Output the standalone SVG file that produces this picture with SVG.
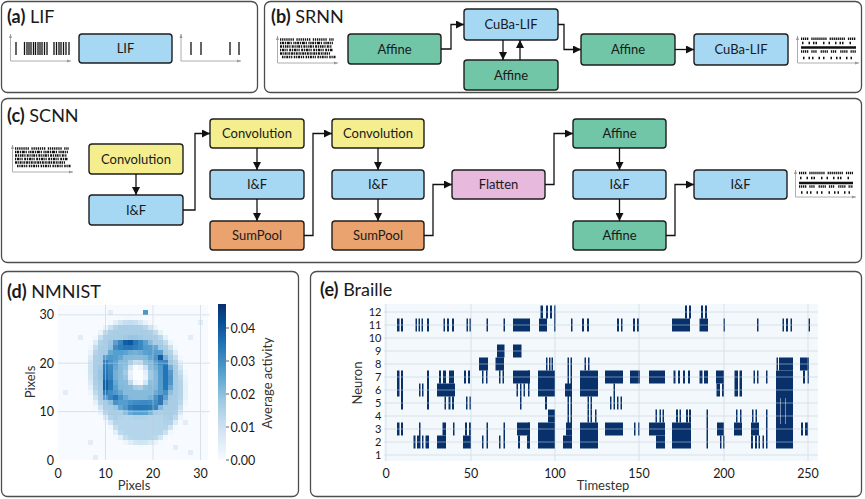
<svg xmlns="http://www.w3.org/2000/svg" width="865" height="499" viewBox="0 0 865 499">
<defs>
<style>
text { font-family: Lato, "Open Sans", "Liberation Sans", sans-serif; fill:#1a1a1a; }
.panel { fill:#fff; stroke:#4d4d4d; stroke-width:1.3; }
.title { font-size:18px; }
.b { font-weight:700; }
.node rect { stroke:#1e1e1e; stroke-width:1.4; }
.node text { font-size:13px; text-anchor:middle; }
.blue { fill:#a6d7f3; } .green { fill:#70c6a7; } .yellow { fill:#f5ee8f; } .orange { fill:#eaa36e; } .pink { fill:#e7b9dc; }
.conn path { fill:none; stroke:#111; stroke-width:1.3; marker-end:url(#arr); }
.ax { stroke:#9a9a9a; stroke-width:0.8; fill:none; marker-end:url(#axarr); }
.spk { stroke:#111; stroke-width:1.3; }
.dots line { stroke:#111; stroke-width:2.6; }
.tick { font-size:12.5px; fill:#333; }
.lab { font-size:13px; fill:#333; }
.grid { stroke:#c3ccd6; stroke-width:1; opacity:0.55; }
</style>
<marker id="arr" viewBox="0 0 10 10" refX="10" refY="5" markerWidth="8" markerHeight="8" markerUnits="userSpaceOnUse" orient="auto"><path d="M0,0 L10,5 L0,10 z" fill="#111"/></marker>
<marker id="axarr" viewBox="0 0 10 10" refX="10" refY="5" markerWidth="4" markerHeight="4" markerUnits="userSpaceOnUse" orient="auto"><path d="M0,1 L10,5 L0,9 z" fill="#9a9a9a"/></marker>
<linearGradient id="blues" x1="0" y1="1" x2="0" y2="0">
<stop offset="0" stop-color="#f7fbff"/><stop offset="0.125" stop-color="#deebf7"/><stop offset="0.25" stop-color="#c6dbef"/><stop offset="0.375" stop-color="#9ecae1"/><stop offset="0.5" stop-color="#6baed6"/><stop offset="0.625" stop-color="#4292c6"/><stop offset="0.75" stop-color="#2171b5"/><stop offset="0.875" stop-color="#08519c"/><stop offset="1" stop-color="#08306b"/>
</linearGradient>
<clipPath id="hmclip"><rect x="58" y="305" width="152" height="155"/></clipPath>
<filter id="bl2" x="-30%" y="-30%" width="160%" height="160%"><feGaussianBlur stdDeviation="2.5"/></filter>
<filter id="bl1" x="-30%" y="-30%" width="160%" height="160%"><feGaussianBlur stdDeviation="1.5"/></filter>
<filter id="pix" filterUnits="userSpaceOnUse" primitiveUnits="userSpaceOnUse" x="58" y="305" width="152" height="155">
<feFlood x="60" y="307" width="1" height="1" flood-color="#000" result="f"/>
<feComposite in="f" in2="f" operator="over" x="58" y="305" width="5" height="5" result="t"/>
<feTile in="t" result="a"/>
<feComposite in="SourceGraphic" in2="a" operator="in"/>
<feMorphology operator="dilate" radius="2"/>
</filter>
</defs>

<!-- panels -->
<rect class="panel" x="1.5" y="1.5" width="256" height="91" rx="6"/>
<rect class="panel" x="264.5" y="1.5" width="597" height="91" rx="6"/>
<rect class="panel" x="1.5" y="98.5" width="860" height="164" rx="6"/>
<rect class="panel" x="1.5" y="271.5" width="297" height="225" rx="6"/>
<rect class="panel" x="310.5" y="271.5" width="551" height="225" rx="6"/>

<text class="title" x="7" y="23"><tspan class="b">(a)</tspan> LIF</text>
<text class="title" x="271" y="23"><tspan class="b">(b)</tspan> SRNN</text>
<text class="title" x="7" y="122"><tspan class="b">(c)</tspan> SCNN</text>
<text class="title" x="7" y="298"><tspan class="b">(d)</tspan> NMNIST</text>
<text class="title" x="320" y="296"><tspan class="b">(e)</tspan> Braille</text>

<!-- (a) spike trains -->
<g id="a-input">
<path class="ax" d="M10.5,61 V34"/><path class="ax" d="M10.5,61 H71"/>
<g class="spk">
<line x1="16" y1="42" x2="16" y2="55"/>
<line x1="24.5" y1="42" x2="24.5" y2="55"/><line x1="27" y1="42" x2="27" y2="55"/><line x1="29" y1="42" x2="29" y2="55"/><line x1="31" y1="42" x2="31" y2="55"/><line x1="33.5" y1="42" x2="33.5" y2="55"/><line x1="35.5" y1="42" x2="35.5" y2="55"/><line x1="38" y1="42" x2="38" y2="55"/><line x1="40" y1="42" x2="40" y2="55"/><line x1="42" y1="42" x2="42" y2="55"/><line x1="44.5" y1="42" x2="44.5" y2="55"/><line x1="47" y1="42" x2="47" y2="55"/>
<line x1="54" y1="42" x2="54" y2="55"/><line x1="56.5" y1="42" x2="56.5" y2="55"/><line x1="59" y1="42" x2="59" y2="55"/><line x1="61" y1="42" x2="61" y2="55"/><line x1="63.5" y1="42" x2="63.5" y2="55"/><line x1="66" y1="42" x2="66" y2="55"/><line x1="69" y1="42" x2="69" y2="55"/>
</g>
</g>
<g id="a-output">
<path class="ax" d="M181,61 V34"/><path class="ax" d="M181,61 H241"/>
<g class="spk">
<line x1="191" y1="42" x2="191" y2="55"/><line x1="201" y1="42" x2="201" y2="55"/><line x1="230" y1="42" x2="230" y2="55"/><line x1="239" y1="42" x2="239" y2="55"/>
</g>
</g>
<g id="a-lif" class="node"><rect class="blue" x="79" y="34" width="93" height="29" rx="3"/><text x="125.5" y="53">LIF</text></g>

<!-- (b) rasters -->
<g id="b-input">
<path class="ax" d="M277.5,63 V36"/><path class="ax" d="M277.5,63 H338"/>
<g class="dots">
<line x1="280" y1="39.5" x2="334" y2="39.5" stroke-dasharray="1.3 0.8 1.3 0.8 1.3 0.8 1.3 0.8 1.3 0.8 1.3 0.8 1.3 2.5"/>
<line x1="280" y1="43" x2="333" y2="43" stroke-dasharray="1.4 0.6 2 0.8 1.2 0.8 3 0.8 1.2 1.5 1.2 0.6"/>
<line x1="280" y1="46.5" x2="332" y2="46.5" stroke-dasharray="2 0.8 1.2 0.8 1.2 0.5 2 0.8 1.2 1.2"/>
<line x1="280" y1="50" x2="333" y2="50" stroke-dasharray="1.2 0.8 2 0.5 1.2 0.8 1.2 1.5 2 0.8"/>
<line x1="280" y1="53.5" x2="330" y2="53.5" stroke-dasharray="2 0.6 1.2 0.8 2 0.8 1.2 0.5 1.2 0.8"/>
<line x1="282" y1="57" x2="336" y2="57" stroke-dasharray="1.5 0.8 1.2 0.8 2 0.8 1.2 0.8 1.2 1.5"/>
</g>
</g>
<g id="b-output">
<path class="ax" d="M797.5,63 V36"/><path class="ax" d="M797.5,63 H859"/>
<g class="dots">
<line x1="801" y1="38.8" x2="856" y2="38.8" stroke-dasharray="1.3 0.7 1.3 0.7 1.3 0.7 1.3 3 1.3 0.7 1.3 0.7 1.3 0.7 1.3 0.7"/>
<line x1="802" y1="43" x2="855" y2="43" stroke-dasharray="1.5 5 1.5 3 1.5 1 1.5 6 1.5 4"/>
<line x1="801" y1="47.5" x2="856" y2="47.5" stroke-width="2.6"/>
<line x1="801" y1="51.5" x2="856" y2="51.5" stroke-dasharray="1.3 0.7 1.3 0.7 1.3 0.7 1.3 3 1.3 0.7 1.3 0.7 1.3 4"/>
<line x1="803" y1="58" x2="855" y2="58" stroke-dasharray="1.5 4 1.5 2 1.5 5 1.5 3 1.5 6"/>
</g>
</g>

<!-- (b) nodes -->
<g id="b-affine1" class="node"><rect class="green" x="348" y="34" width="93" height="30" rx="3"/><text x="394.5" y="53.5">Affine</text></g>
<g id="b-cuba1" class="node"><rect class="blue" x="464" y="9" width="94" height="31" rx="3"/><text x="511" y="29">CuBa-LIF</text></g>
<g id="b-affine-rec" class="node"><rect class="green" x="464" y="60" width="94" height="30" rx="3"/><text x="511" y="79.5">Affine</text></g>
<g id="b-affine2" class="node"><rect class="green" x="581" y="34" width="94" height="31" rx="3"/><text x="628" y="54">Affine</text></g>
<g id="b-cuba2" class="node"><rect class="blue" x="694" y="34" width="94" height="31" rx="3"/><text x="741" y="54">CuBa-LIF</text></g>

<!-- (c) rasters -->
<g id="c-input">
<path class="ax" d="M12.5,172 V145"/><path class="ax" d="M12.5,172 H73"/>
<g class="dots">
<line x1="15" y1="148.5" x2="69" y2="148.5" stroke-dasharray="1.3 0.8 1.3 0.8 1.3 0.8 1.3 0.8 1.3 0.8 1.3 0.8 1.3 2.5"/>
<line x1="15" y1="152" x2="68" y2="152" stroke-dasharray="1.4 0.6 2 0.8 1.2 0.8 3 0.8 1.2 1.5 1.2 0.6"/>
<line x1="15" y1="155.5" x2="67" y2="155.5" stroke-dasharray="2 0.8 1.2 0.8 1.2 0.5 2 0.8 1.2 1.2"/>
<line x1="15" y1="159" x2="68" y2="159" stroke-dasharray="1.2 0.8 2 0.5 1.2 0.8 1.2 1.5 2 0.8"/>
<line x1="15" y1="162.5" x2="65" y2="162.5" stroke-dasharray="2 0.6 1.2 0.8 2 0.8 1.2 0.5 1.2 0.8"/>
<line x1="17" y1="166" x2="71" y2="166" stroke-dasharray="1.5 0.8 1.2 0.8 2 0.8 1.2 0.8 1.2 1.5"/>
</g>
</g>
<g id="c-output">
<path class="ax" d="M795.5,197 V170"/><path class="ax" d="M795.5,197 H856"/>
<g class="dots">
<line x1="799" y1="173" x2="853" y2="173" stroke-dasharray="1.3 0.7 1.3 0.7 1.3 0.7 1.3 3 1.3 0.7 1.3 0.7 1.3 0.7 1.3 0.7"/>
<line x1="800" y1="178" x2="852" y2="178" stroke-dasharray="1.5 5 1.5 3 1.5 1 1.5 6 1.5 4"/>
<line x1="799" y1="183" x2="853" y2="183" stroke-width="2.6"/>
<line x1="799" y1="186.5" x2="853" y2="186.5" stroke-dasharray="1.3 0.7 1.3 0.7 1.3 0.7 1.3 3 1.3 0.7 1.3 0.7 1.3 4"/>
<line x1="801" y1="192.5" x2="852" y2="192.5" stroke-dasharray="1.5 4 1.5 2 1.5 5 1.5 3 1.5 6"/>
</g>
</g>

<!-- (c) nodes -->
<g id="c-conv1" class="node"><rect class="yellow" x="89" y="144" width="94" height="30" rx="3"/><text x="136" y="163.5">Convolution</text></g>
<g id="c-if1" class="node"><rect class="blue" x="89" y="195" width="94" height="30" rx="3"/><text x="136" y="214.5">I&amp;F</text></g>
<g id="c-conv2" class="node"><rect class="yellow" x="210" y="119" width="94" height="29" rx="3"/><text x="257" y="138">Convolution</text></g>
<g id="c-if2" class="node"><rect class="blue" x="210" y="170" width="94" height="29" rx="3"/><text x="257" y="189">I&amp;F</text></g>
<g id="c-pool1" class="node"><rect class="orange" x="210" y="221" width="94" height="29" rx="3"/><text x="257" y="240">SumPool</text></g>
<g id="c-conv3" class="node"><rect class="yellow" x="332" y="119" width="92" height="29" rx="3"/><text x="378" y="138">Convolution</text></g>
<g id="c-if3" class="node"><rect class="blue" x="332" y="170" width="92" height="29" rx="3"/><text x="378" y="189">I&amp;F</text></g>
<g id="c-pool2" class="node"><rect class="orange" x="332" y="221" width="92" height="29" rx="3"/><text x="378" y="240">SumPool</text></g>
<g id="c-flatten" class="node"><rect class="pink" x="452" y="170" width="93" height="29" rx="3"/><text x="498.5" y="189">Flatten</text></g>
<g id="c-affine1" class="node"><rect class="green" x="573" y="119" width="93" height="29" rx="3"/><text x="619.5" y="138">Affine</text></g>
<g id="c-if4" class="node"><rect class="blue" x="573" y="170" width="93" height="29" rx="3"/><text x="619.5" y="189">I&amp;F</text></g>
<g id="c-affine2" class="node"><rect class="green" x="573" y="221" width="93" height="29" rx="3"/><text x="619.5" y="240">Affine</text></g>
<g id="c-if5" class="node"><rect class="blue" x="694" y="170" width="93" height="29" rx="3"/><text x="740.5" y="189">I&amp;F</text></g>

<!-- connectors -->
<g id="connectors" class="conn">
<path d="M441,49 H451 V24.5 H464"/>
<path d="M503,40 V60"/>
<path d="M520,60 V40"/>
<path d="M558,24.5 H564 V49.5 H581"/>
<path d="M675,49.5 H694"/>
<path d="M136,174 V195"/>
<path d="M183,210 H195 V133.5 H210"/>
<path d="M257,148 V170"/>
<path d="M257,199 V221"/>
<path d="M304,235.5 H313 V133.5 H332"/>
<path d="M378,148 V170"/>
<path d="M378,199 V221"/>
<path d="M424,235.5 H433 V184.5 H452"/>
<path d="M545,184.5 H554 V133.5 H573"/>
<path d="M619.5,148 V170"/>
<path d="M619.5,199 V221"/>
<path d="M666,235.5 H675 V184.5 H694"/>
</g>

<!-- (d) heatmap -->
<g id="d-heatmap">
<g clip-path="url(#hmclip)">
<g filter="url(#pix)">
<rect x="58" y="305" width="152" height="155" fill="#f7fbff"/>
<g fill="#e2edf8">
<rect x="77" y="333" width="5" height="5"/><rect x="86" y="441" width="5" height="5"/><rect x="172" y="445" width="5" height="5"/><rect x="181" y="421" width="5" height="5"/><rect x="190" y="450" width="5" height="5"/><rect x="110" y="309" width="5" height="5"/><rect x="196" y="318" width="5" height="5"/><rect x="63" y="391" width="5" height="5"/><rect x="186" y="335" width="5" height="5"/><rect x="95" y="455" width="5" height="5"/>
</g>
<ellipse cx="137" cy="380" rx="45" ry="60" transform="rotate(-18 137 380)" fill="#a9cde5" filter="url(#bl2)"/>
<ellipse cx="141" cy="425" rx="26" ry="18" fill="#b4d5ea" filter="url(#bl2)"/>
<ellipse cx="137" cy="377" rx="28" ry="32" transform="rotate(-18 137 377)" fill="#86bbdc" stroke="#549fcf" stroke-width="13" filter="url(#bl1)"/>
<g fill="#2474b6" filter="url(#bl1)">
<ellipse cx="107" cy="378" rx="4" ry="22"/>
<ellipse cx="128" cy="345" rx="17" ry="4"/>
<ellipse cx="142" cy="406" rx="16" ry="4"/>
<ellipse cx="166" cy="377" rx="4" ry="16"/>
<ellipse cx="115" cy="398" rx="5" ry="4"/>
</g>
<g fill="#0f559c" filter="url(#bl1)">
<ellipse cx="129" cy="343" rx="6" ry="3"/><ellipse cx="107" cy="385" rx="3" ry="6"/><ellipse cx="160" cy="400" rx="4" ry="3"/><ellipse cx="160" cy="358" rx="3" ry="4"/>
</g>
<ellipse cx="138" cy="374" rx="12" ry="14" transform="rotate(-18 138 374)" fill="#cfe2f2" filter="url(#bl1)"/>
<ellipse cx="138" cy="375" rx="8" ry="10" transform="rotate(-18 138 375)" fill="#fbfdff" filter="url(#bl1)"/>
<rect x="141" y="311" width="5" height="5" fill="#4a98c9"/>
</g>
</g>
<g class="grid">
<line x1="105.5" y1="305" x2="105.5" y2="460"/><line x1="153" y1="305" x2="153" y2="460"/><line x1="200.5" y1="305" x2="200.5" y2="460"/>
<line x1="58" y1="411.6" x2="210" y2="411.6"/><line x1="58" y1="363.2" x2="210" y2="363.2"/><line x1="58" y1="314.8" x2="210" y2="314.8"/>
</g>
<g class="tick" text-anchor="middle">
<text x="58" y="478">0</text><text x="105.5" y="478">10</text><text x="153" y="478">20</text><text x="200.5" y="478">30</text>
</g>
<g class="tick" text-anchor="end">
<text x="54" y="465">0</text><text x="54" y="416">10</text><text x="54" y="368">20</text><text x="54" y="319">30</text>
</g>
<text class="lab" x="134" y="490" text-anchor="middle">Pixels</text>
<text class="lab" text-anchor="middle" transform="translate(35 382) rotate(-90)">Pixels</text>
<rect x="218" y="304" width="8" height="156" fill="url(#blues)"/>
<g stroke="#333" stroke-width="0.8">
<line x1="226" y1="460" x2="229" y2="460"/><line x1="226" y1="427" x2="229" y2="427"/><line x1="226" y1="394" x2="229" y2="394"/><line x1="226" y1="361" x2="229" y2="361"/><line x1="226" y1="328" x2="229" y2="328"/>
</g>
<g class="tick">
<text x="230.5" y="464.5">0.00</text><text x="230.5" y="431.5">0.01</text><text x="230.5" y="398.5">0.02</text><text x="230.5" y="365.5">0.03</text><text x="230.5" y="332.5">0.04</text>
</g>
<text class="lab" text-anchor="middle" transform="translate(272 383) rotate(-90)">Average activity</text>
</g>

<!-- (e) raster -->
<g id="e-raster">
<rect x="384" y="304" width="434" height="157" fill="#f3f8fc"/>
<g fill="#08306b">
<rect x="540.5" y="305.5" width="2.5" height="13"/><rect x="546" y="305.5" width="2" height="13"/><rect x="550" y="305.5" width="2" height="13"/><rect x="554" y="305.5" width="1.5" height="26"/>
<rect x="685" y="305.5" width="2" height="13"/><rect x="689" y="305.5" width="2" height="13"/><rect x="701" y="305.5" width="2" height="13"/><rect x="705" y="305.5" width="2" height="13"/>
<rect x="397" y="318.5" width="2.5" height="13"/><rect x="401" y="318.5" width="2" height="13"/><rect x="415.5" y="318.5" width="1.5" height="13"/><rect x="418.5" y="318.5" width="1.5" height="13"/><rect x="421.5" y="318.5" width="1.5" height="13"/><rect x="427" y="318.5" width="2" height="13"/>
<rect x="443.5" y="318.5" width="1.5" height="13"/><rect x="447" y="318.5" width="2" height="13"/><rect x="452" y="318.5" width="2" height="13"/><rect x="466.5" y="318.5" width="1.5" height="13"/><rect x="469.5" y="318.5" width="1.5" height="13"/><rect x="486.5" y="318.5" width="1.5" height="13"/><rect x="503.5" y="318.5" width="1.5" height="13"/>
<rect x="513" y="318.5" width="17" height="13"/><rect x="539" y="318.5" width="8" height="13"/><rect x="571" y="318.5" width="1.5" height="13"/><rect x="582" y="318.5" width="2" height="13"/><rect x="587" y="318.5" width="2" height="13"/><rect x="617" y="318.5" width="2" height="13"/><rect x="621" y="318.5" width="1.5" height="13"/><rect x="633" y="318.5" width="2" height="13"/><rect x="637" y="318.5" width="2" height="13"/>
<rect x="672" y="318.5" width="18" height="13"/><rect x="699.5" y="318.5" width="8.5" height="13"/><rect x="723.5" y="318.5" width="1.5" height="13"/><rect x="757" y="318.5" width="1.5" height="13"/><rect x="782.5" y="318.5" width="1.5" height="13"/><rect x="786" y="318.5" width="2" height="13"/><rect x="790.5" y="318.5" width="1.5" height="13"/><rect x="808.5" y="318.5" width="1.5" height="13"/>
<rect x="497" y="344.5" width="7.5" height="13"/><rect x="513" y="344.5" width="8.5" height="13"/>
<rect x="479" y="357.5" width="9" height="13"/><rect x="495.5" y="357.5" width="8.5" height="13"/><rect x="546" y="357.5" width="1.5" height="13"/><rect x="549" y="357.5" width="1.5" height="13"/><rect x="551.5" y="357.5" width="1.5" height="13"/>
<rect x="584.5" y="357.5" width="1.5" height="13"/><rect x="588" y="357.5" width="1.5" height="13"/><rect x="776.5" y="357.5" width="1.5" height="13"/><rect x="779" y="357.5" width="14" height="13"/><rect x="800" y="357.5" width="9" height="13"/>
<rect x="567.5" y="357.5" width="1.5" height="78"/><rect x="570.5" y="357.5" width="1.5" height="78"/>
<rect x="439" y="370.5" width="2" height="13"/><rect x="443" y="370.5" width="3" height="13"/><rect x="449" y="370.5" width="5" height="13"/><rect x="464" y="370.5" width="2" height="13"/><rect x="468" y="370.5" width="2" height="13"/><rect x="482" y="370.5" width="1.5" height="13"/><rect x="486" y="370.5" width="1.5" height="13"/><rect x="499" y="370.5" width="1.5" height="13"/><rect x="502.5" y="370.5" width="1.5" height="13"/>
<rect x="513" y="370.5" width="17" height="13"/><rect x="605" y="370.5" width="18" height="13"/><rect x="630" y="370.5" width="10" height="13"/><rect x="649" y="370.5" width="16" height="13"/>
<rect x="673.5" y="370.5" width="2" height="13"/><rect x="678" y="370.5" width="2" height="13"/><rect x="683" y="370.5" width="2" height="13"/><rect x="688" y="370.5" width="2" height="13"/><rect x="699.5" y="370.5" width="3" height="13"/><rect x="704" y="370.5" width="4" height="13"/><rect x="716" y="370.5" width="8" height="13"/>
<rect x="753.5" y="370.5" width="1.5" height="13"/><rect x="757" y="370.5" width="1.5" height="13"/><rect x="766" y="370.5" width="1.5" height="13"/><rect x="803" y="370.5" width="2" height="13"/><rect x="807.5" y="370.5" width="1.5" height="13"/>
<rect x="397" y="370.5" width="2.5" height="26"/><rect x="528" y="370.5" width="1.5" height="26"/><rect x="538" y="370.5" width="17" height="26"/><rect x="580" y="370.5" width="18" height="26"/><rect x="734.5" y="370.5" width="3.5" height="26"/><rect x="739.5" y="370.5" width="2.5" height="26"/>
<rect x="401" y="370.5" width="2" height="39"/><rect x="427" y="370.5" width="2" height="39"/>
<rect x="776" y="370.5" width="17" height="78"/>
<rect x="419" y="383.5" width="1.5" height="13"/><rect x="422" y="383.5" width="1.5" height="13"/><rect x="437" y="383.5" width="18" height="13"/><rect x="516.5" y="383.5" width="1.5" height="13"/><rect x="520" y="383.5" width="1.5" height="13"/><rect x="523.5" y="383.5" width="1.5" height="13"/><rect x="565" y="383.5" width="7" height="13"/><rect x="716.5" y="383.5" width="3.5" height="13"/><rect x="722" y="383.5" width="2" height="13"/>
<rect x="613.5" y="383.5" width="1.5" height="26"/>
<rect x="444.5" y="396.5" width="1.5" height="13"/><rect x="448.5" y="396.5" width="2" height="13"/><rect x="452" y="396.5" width="2" height="13"/><rect x="466" y="396.5" width="1.5" height="13"/><rect x="469.5" y="396.5" width="1.5" height="13"/><rect x="520" y="396.5" width="1.5" height="13"/><rect x="545" y="396.5" width="2" height="13"/>
<rect x="587.5" y="396.5" width="1.5" height="13"/><rect x="590.5" y="396.5" width="1.5" height="13"/><rect x="610" y="396.5" width="1.5" height="13"/><rect x="617" y="396.5" width="1.5" height="13"/><rect x="620.5" y="396.5" width="1.5" height="13"/>
<rect x="548" y="409.5" width="7" height="13"/><rect x="587.5" y="409.5" width="1.5" height="13"/><rect x="590.5" y="409.5" width="1.5" height="13"/><rect x="595" y="409.5" width="1.5" height="13"/><rect x="655.5" y="409.5" width="1.5" height="13"/><rect x="659.5" y="409.5" width="1.5" height="13"/><rect x="662.5" y="409.5" width="1.5" height="13"/>
<rect x="676" y="409.5" width="2" height="13"/><rect x="679.5" y="409.5" width="1.5" height="13"/><rect x="686" y="409.5" width="2" height="13"/><rect x="689" y="409.5" width="2" height="13"/><rect x="736" y="409.5" width="1.5" height="13"/><rect x="740" y="409.5" width="1.5" height="13"/><rect x="752" y="409.5" width="1.5" height="13"/><rect x="755.5" y="409.5" width="1.5" height="13"/>
<rect x="706.5" y="409.5" width="1.5" height="39"/><rect x="766" y="409.5" width="1.5" height="39"/>
<rect x="397" y="422.5" width="2.5" height="13"/><rect x="401" y="422.5" width="2" height="13"/><rect x="442.5" y="422.5" width="3.5" height="13"/><rect x="453" y="422.5" width="1.5" height="13"/><rect x="465" y="422.5" width="2" height="13"/><rect x="469" y="422.5" width="2" height="13"/><rect x="517" y="422.5" width="13" height="13"/><rect x="566" y="422.5" width="6" height="13"/>
<rect x="605" y="422.5" width="18" height="13"/><rect x="634" y="422.5" width="1.5" height="13"/><rect x="638" y="422.5" width="1.5" height="13"/><rect x="649" y="422.5" width="16" height="13"/><rect x="717" y="422.5" width="7" height="13"/><rect x="734" y="422.5" width="8" height="13"/><rect x="751" y="422.5" width="8" height="13"/><rect x="801" y="422.5" width="2" height="13"/><rect x="805" y="422.5" width="3" height="13"/>
<rect x="419" y="422.5" width="1.5" height="26"/><rect x="486.5" y="422.5" width="1.5" height="26"/><rect x="503.5" y="422.5" width="1.5" height="26"/><rect x="528" y="422.5" width="1.5" height="26"/><rect x="538" y="422.5" width="17" height="26"/><rect x="580" y="422.5" width="18" height="26"/><rect x="672" y="422.5" width="19" height="26"/>
<rect x="413.5" y="435.5" width="2" height="13"/><rect x="417" y="435.5" width="2" height="13"/><rect x="422" y="435.5" width="1.5" height="13"/><rect x="425.5" y="435.5" width="3.5" height="13"/><rect x="437" y="435.5" width="9" height="13"/><rect x="463" y="435.5" width="8" height="13"/><rect x="482" y="435.5" width="1.5" height="13"/><rect x="499" y="435.5" width="1.5" height="13"/><rect x="518" y="435.5" width="2" height="13"/><rect x="527" y="435.5" width="3" height="13"/>
<rect x="563" y="435.5" width="9" height="13"/><rect x="656" y="435.5" width="9" height="13"/><rect x="720" y="435.5" width="1.5" height="13"/><rect x="723" y="435.5" width="1.5" height="13"/><rect x="751" y="435.5" width="2" height="13"/><rect x="755" y="435.5" width="2" height="13"/><rect x="758.5" y="435.5" width="1.5" height="13"/><rect x="762.5" y="435.5" width="1.5" height="13"/>
</g>
<g stroke="#f3f8fc" stroke-width="0.8" opacity="0.6">
<line x1="780.5" y1="398" x2="780.5" y2="424"/><line x1="785.5" y1="398" x2="785.5" y2="424"/>
</g>
<g class="grid">
<line x1="384" y1="455" x2="818" y2="455"/><line x1="384" y1="442" x2="818" y2="442"/><line x1="384" y1="429" x2="818" y2="429"/><line x1="384" y1="416" x2="818" y2="416"/><line x1="384" y1="403" x2="818" y2="403"/><line x1="384" y1="390" x2="818" y2="390"/><line x1="384" y1="377" x2="818" y2="377"/><line x1="384" y1="364" x2="818" y2="364"/><line x1="384" y1="351" x2="818" y2="351"/><line x1="384" y1="338" x2="818" y2="338"/><line x1="384" y1="325" x2="818" y2="325"/><line x1="384" y1="312" x2="818" y2="312"/>
<line x1="386" y1="304" x2="386" y2="461"/><line x1="471" y1="304" x2="471" y2="461"/><line x1="555" y1="304" x2="555" y2="461"/><line x1="639" y1="304" x2="639" y2="461"/><line x1="724" y1="304" x2="724" y2="461"/><line x1="808" y1="304" x2="808" y2="461"/>
</g>
<g class="tick" text-anchor="end" style="font-size:11px">
<text x="381.5" y="459">1</text><text x="381.5" y="446">2</text><text x="381.5" y="433">3</text><text x="381.5" y="420">4</text><text x="381.5" y="407">5</text><text x="381.5" y="394">6</text><text x="381.5" y="381">7</text><text x="381.5" y="368">8</text><text x="381.5" y="355">9</text><text x="381.5" y="342">10</text><text x="381.5" y="329">11</text><text x="381.5" y="316">12</text>
</g>
<g class="tick" text-anchor="middle">
<text x="386" y="478">0</text><text x="471" y="478">50</text><text x="555" y="478">100</text><text x="639" y="478">150</text><text x="724" y="478">200</text><text x="808" y="478">250</text>
</g>
<text class="lab" x="603" y="490" text-anchor="middle">Timestep</text>
<text class="lab" text-anchor="middle" transform="translate(362 383) rotate(-90)">Neuron</text>
</g>
</svg>
